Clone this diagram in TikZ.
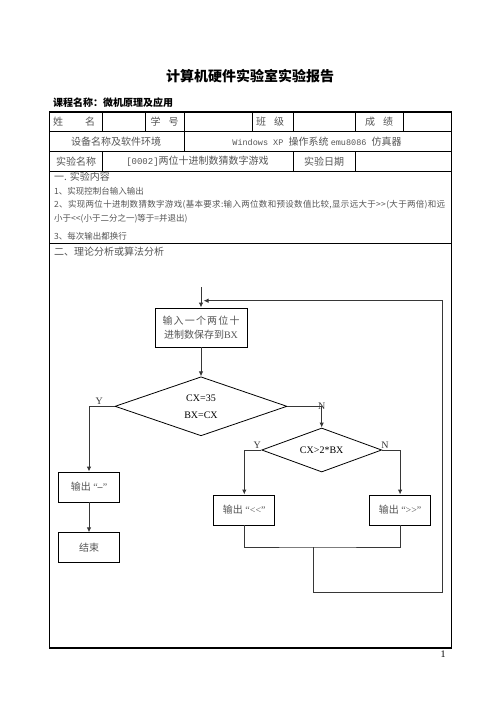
\documentclass[tikz,border=0pt]{standalone}
\usepackage{fontspec}
\setmainfont{Liberation Serif}
\setmonofont{Liberation Mono}
\newfontfamily\cjk{Noto Sans CJK SC}
\usepackage{tikz}
\usetikzlibrary{arrows,arrows.meta,shapes,positioning}
\usepackage{xcolor}
\definecolor{rptline}{RGB}{55,55,55}
\definecolor{rpttext}{RGB}{85,85,85}
\tikzstyle{procbox} = [rectangle, minimum width=61pt, minimum height=30pt, inner sep=0pt, text centered, align=center, draw=black, line width=0.8pt, text=rpttext, font=\fontsize{10}{14}\selectfont]
\tikzstyle{decision} = [diamond, aspect=3, inner sep=0pt, text centered, align=center, draw=black, line width=0.8pt, font=\fontsize{10}{17}\selectfont]
\tikzstyle{arrow} = [line width=1pt, ->, >={Latex[length=5pt,width=4.5pt]}, color=rptline]
\tikzstyle{link} = [line width=1pt, color=rptline]
\tikzstyle{cell} = [inner sep=0pt, text=rpttext, font=\cjk\fontsize{10}{12}\selectfont]
\tikzstyle{item} = [inner sep=0pt, anchor=west, text=rpttext, font=\cjk\fontsize{8.5}{10}\selectfont]
\tikzstyle{yn} = [above, inner sep=1pt, font=\fontsize{10}{12}\selectfont]
% spread a line of characters evenly over a given width
\def\spreadline#1{\spreadfirst#1\relax}
\def\spreadfirst#1{#1\spreadnext}
\def\spreadnext#1{\ifx#1\relax\else\hfil#1\expandafter\spreadnext\fi}

\begin{document}
\begin{tikzpicture}[x=1pt, y=-1pt]
\useasboundingbox (0,0) rectangle (500,706);
\fill[white] (0,0) rectangle (500,706);

% Heading
\node (title) at (250,76) {\cjk\bfseries\fontsize{14}{16}\selectfont 计算机硬件实验室实验报告};
\node (course) [anchor=west, inner sep=0pt] at (53,103) {\cjk\bfseries\fontsize{10}{12}\selectfont 课程名称：微机原理及应用};

% Form grid
\draw[line width=1.2pt] (49.5,112) rectangle (451.5,648);
\foreach \y in {131.5,151.5,171.5,243} \draw[line width=0.8pt] (49.5,\y) -- (451.5,\y);
\foreach \x in {102,145,184,252,293,355,403} \draw[line width=0.8pt] (\x,112) -- (\x,131.5);
\draw[line width=0.8pt] (184,131.5) -- (184,151.5);
\foreach \x in {102,293,355} \draw[line width=0.8pt] (\x,151.5) -- (\x,171.5);

% Form cells
\node (name) [cell] at (74,122) {姓\hspace{22pt}名};
\node (sid) [cell] at (164.5,122) {学\hspace{8pt}号};
\node (cls) [cell] at (270,122) {班\hspace{8pt}级};
\node (grade) [cell] at (379,122) {成\hspace{8pt}绩};
\node (env) [cell] at (116,141.5) {设备名称及软件环境};
\node (envval) [cell] at (317,141.5) {{\ttfamily\fontsize{8.5}{10}\selectfont Windows XP }操作系统 {\ttfamily\fontsize{8.5}{10}\selectfont emu8086 }仿真器};
\node (expname) [cell] at (76,161.5) {实验名称};
\node (expval) [cell] at (197.5,161.5) {{\ttfamily\fontsize{9}{10}\selectfont [0002]}两位十进制数猜数字游戏};
\node (date) [cell] at (324,161.5) {实验日期};

% Section one
\node (sec1) [cell, anchor=west] at (54,177) {一. 实验内容};
\node (it1) [item] at (54,191) {1、实现控制台输入输出};
\node (it2) [item] at (54,205) {\makebox[391pt][s]{\spreadline{2、实现两位十进制数猜数字游戏(基本要求:输入两位数和预设数值比较,显示远大于>>(大于两倍)和远}}};
\node (it2b) [item] at (54,219) {小于<<(小于二分之一)等于=并退出)};
\node (it3) [item] at (54,236) {3、每次输出都换行};
\node (sec2) [cell, anchor=west] at (54,251.5) {二、理论分析或算法分析};

% Flowchart
\coordinate (entry) at (201,287);
\node (inbox) [procbox, minimum width=92pt, minimum height=39pt] at (201,327.5) {{\cjk\makebox[77pt][s]{输\hfil 入\hfil 一\hfil 个\hfil 两\hfil 位\hfil 十}}\\{\cjk 进制数保存到}BX};
\node (eqtest) [decision, below=29pt of inbox, minimum width=172pt, minimum height=59pt] {CX=35\\BX=CX};
\node (cmptest) [decision, minimum width=120pt, minimum height=44pt] at (321.7,450) {CX>2*BX};
\node (outeq) [procbox] at (89,487) {{\cjk 输出} “\textbf{–}”};
\node (stop) [procbox, below=30pt of outeq] {\cjk 结束};
\node (outlt) [procbox] at (244.3,510) {{\cjk 输出} “<\kern0pt<”};
\node (outgt) [procbox, right=94pt of outlt] {{\cjk 输出} “>\kern0pt>”};

\coordinate (merge) at (313.3,547);
\coordinate (loopend) at (442,592.3);
\coordinate (reentry) at (203.5,300.7);

% Connectors
\draw[arrow] (entry) -- (inbox);
\draw[arrow] (inbox) -- (eqtest);
\draw[arrow] (eqtest.west) -| node[yn, pos=0.3] {Y} (outeq.north);
\draw[arrow] (eqtest.east) -| node[yn, pos=0.6] {N} (cmptest.north);
\draw[arrow] (cmptest.west) -| node[yn, pos=0.12] {Y} (outlt.north);
\draw[arrow] (cmptest.east) -| node[yn, pos=0.08] {N} (outgt.north);
\draw[arrow] (outeq) -- (stop);
\draw[link] (outlt.south) |- (merge) -| (outgt.south);
\draw[arrow] (merge) |- (loopend) |- (reentry);

\node (pgnum) at (443,654) {\fontsize{10}{12}\selectfont 1};
\end{tikzpicture}
\end{document}
